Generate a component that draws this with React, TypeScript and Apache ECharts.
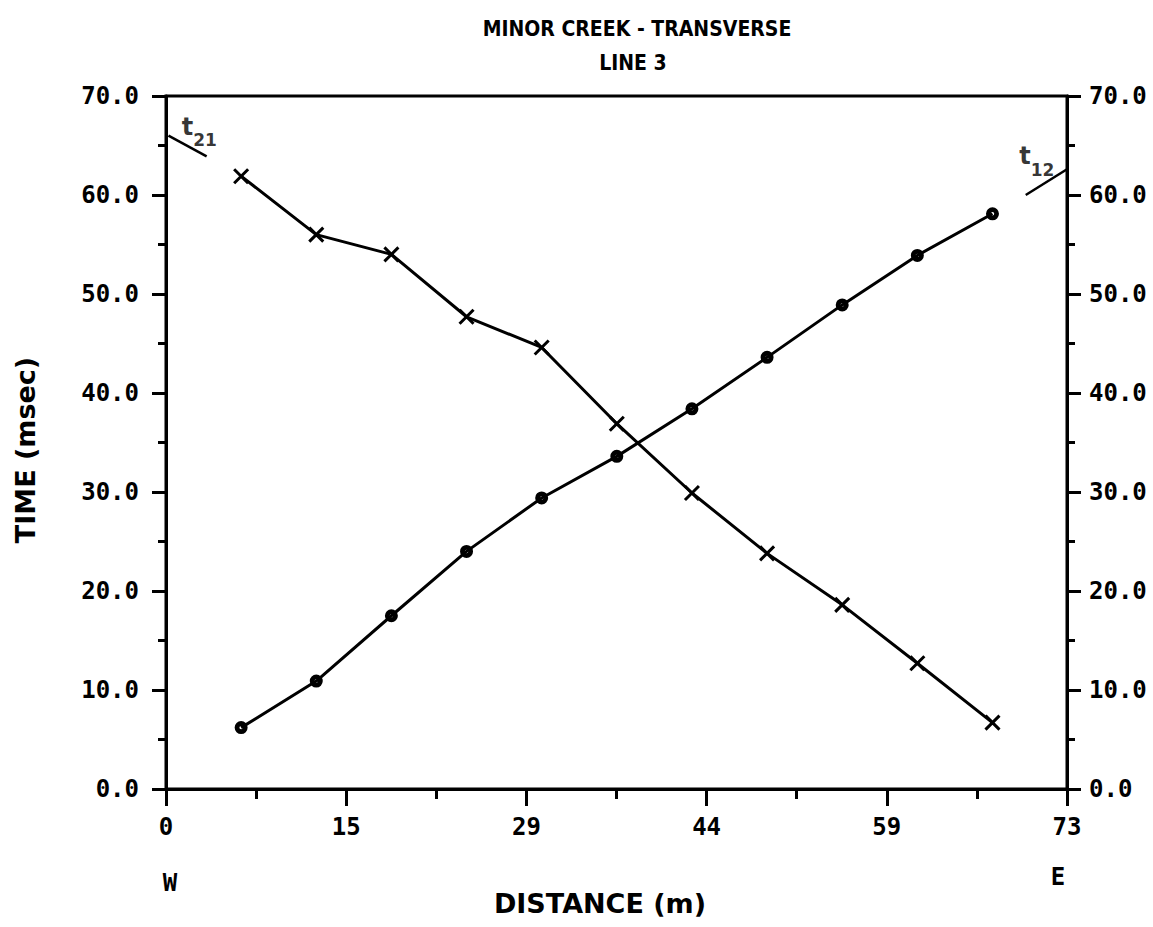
import React, { useEffect, useRef } from "react";
import * as echarts from "echarts";

// Geophone positions (m) along the line
const distances = [6.1, 12.2, 18.3, 24.4, 30.5, 36.6, 42.7, 48.8, 54.9, 61.0, 67.1];
// Travel times (msec): shot at east end (t21, crosses) and west end (t12, circles)
const timesT21 = [61.9, 56.0, 54.0, 47.7, 44.6, 36.9, 29.9, 23.8, 18.6, 12.7, 6.7];
const timesT12 = [6.2, 10.9, 17.5, 24.0, 29.4, 33.6, 38.4, 43.6, 48.9, 53.9, 58.1];
// Intercept-time indicators
const t21Segment = [[0.2, 66.0], [3.3, 63.9]];
const t12Segment = [[69.8, 60.0], [73.15, 62.6]];
const t21LabelAt = [2.7, 66.4];
const t12LabelAt = [70.7, 63.4];
// Axes
const xMax = 73.15;
const xTickLabels = ["0", "15", "29", "44", "59", "73"];
const yTickLabels = ["0.0", "10.0", "20.0", "30.0", "40.0", "50.0", "60.0", "70.0"];

const MONO = "'DejaVu Sans Mono', monospace";
const SANS = "'DejaVu Sans', sans-serif";
const RING =
  "path://M0,-6A6,6 0 1,1 0,6A6,6 0 1,1 0,-6ZM0,-1.6A1.6,1.6 0 1,0 0,1.6A1.6,1.6 0 1,0 0,-1.6Z";
const CROSS = "path://M0,0L10,10M10,0L0,10";

export default function App() {
  const ref = useRef<HTMLDivElement>(null);
  useEffect(() => {
    if (!ref.current) return;
    const chart = echarts.init(ref.current, undefined, { renderer: "svg" });
    const xInterval = xMax / 5;
    const labelStyle = {
      color: "#000",
      fontFamily: MONO,
      fontWeight: "bold" as const,
      fontSize: 24,
    };
    const yAxisBase = (pos: "left" | "right") => ({
      type: "value" as const,
      position: pos,
      min: 0,
      max: 70,
      interval: 10,
      axisLine: { show: true, lineStyle: { color: "#000", width: 3 } },
      axisTick: { show: true, length: 14, lineStyle: { color: "#000", width: 3 } },
      minorTick: { show: true, splitNumber: 2, length: 8, lineStyle: { color: "#000", width: 3 } },
      splitLine: { show: false },
      minorSplitLine: { show: false },
      axisLabel: {
        ...labelStyle,
        margin: pos === "left" ? 27 : 22,
        formatter: (v: number) => yTickLabels[Math.round(v / 10)] ?? "",
      },
    });
    const richT = (sub: string) => `{a|t}{b|${sub}}`;
    const rich = {
      a: { fontFamily: SANS, fontWeight: "bold", fontSize: 24, lineHeight: 24, verticalAlign: "top", color: "#000" },
      b: { fontFamily: SANS, fontWeight: "bold", fontSize: 17, lineHeight: 34, verticalAlign: "bottom", color: "#000" },
    };
    const titleFont = "bold 21px 'Liberation Sans Narrow', 'DejaVu Sans Condensed', sans-serif";
    chart.setOption({
      animation: false,
      backgroundColor: "#fff",
      grid: { left: 166, right: 86, top: 96, bottom: 138, show: true, borderColor: "#000", borderWidth: 3 },
      xAxis: {
        type: "value",
        min: 0,
        max: xMax,
        interval: xInterval,
        axisLine: { show: true, lineStyle: { color: "#000", width: 3 } },
        axisTick: { show: true, length: 17, lineStyle: { color: "#000", width: 3 } },
        minorTick: { show: true, splitNumber: 2, length: 10, lineStyle: { color: "#000", width: 3 } },
        splitLine: { show: false },
        minorSplitLine: { show: false },
        axisLabel: {
          ...labelStyle,
          margin: 26,
          formatter: (v: number) => xTickLabels[Math.round(v / xInterval)] ?? "",
        },
      },
      yAxis: [yAxisBase("left"), yAxisBase("right")],
      graphic: [
        {
          type: "text",
          x: 637,
          y: 29,
          style: { text: "MINOR CREEK - TRANSVERSE", fill: "#000", font: titleFont, textAlign: "center", textVerticalAlign: "middle" },
        },
        {
          type: "text",
          x: 633,
          y: 63,
          style: { text: "LINE 3", fill: "#000", font: titleFont, textAlign: "center", textVerticalAlign: "middle" },
        },
        {
          type: "text",
          x: 600,
          y: 903,
          style: { text: "DISTANCE (m)", fill: "#000", font: `bold 27px ${SANS}`, textAlign: "center", textVerticalAlign: "middle" },
        },
        {
          type: "text",
          x: 25,
          y: 450,
          rotation: Math.PI / 2,
          style: { text: "TIME (msec)", fill: "#000", font: `bold 27px ${SANS}`, textAlign: "center", textVerticalAlign: "middle" },
        },
        {
          type: "text",
          x: 170,
          y: 883,
          style: { text: "W", fill: "#000", font: `bold 24px ${MONO}`, textAlign: "center", textVerticalAlign: "middle" },
        },
        {
          type: "text",
          x: 1058,
          y: 877,
          style: { text: "E", fill: "#000", font: `bold 24px ${MONO}`, textAlign: "center", textVerticalAlign: "middle" },
        },
      ],
      series: [
        {
          name: "t21",
          type: "line",
          data: distances.map((d, i) => [d, timesT21[i]]),
          symbol: CROSS,
          symbolSize: 14,
          lineStyle: { color: "#000", width: 3 },
          itemStyle: { color: "#000", borderColor: "#000", borderWidth: 3 },
          z: 3,
        },
        {
          name: "t12",
          type: "line",
          data: distances.map((d, i) => [d, timesT12[i]]),
          symbol: RING,
          symbolSize: 13,
          lineStyle: { color: "#000", width: 3 },
          itemStyle: { color: "#000", borderWidth: 0 },
          z: 3,
        },
        {
          name: "t21 intercept",
          type: "line",
          data: t21Segment,
          symbol: "none",
          lineStyle: { color: "#000", width: 2.5 },
        },
        {
          name: "t12 intercept",
          type: "line",
          data: t12Segment,
          symbol: "none",
          lineStyle: { color: "#000", width: 2.5 },
        },
        {
          name: "labels",
          type: "scatter",
          symbolSize: 1,
          itemStyle: { color: "rgba(0,0,0,0)" },
          data: [
            { value: t21LabelAt, label: { show: true, position: "inside", formatter: richT("21"), rich } },
            { value: t12LabelAt, label: { show: true, position: "inside", formatter: richT("12"), rich } },
          ],
        },
      ],
    });
    return () => chart.dispose();
  }, []);
  return (
    <div
      ref={ref}
      style={{ position: "absolute", left: 0, top: 0, width: 1153, height: 927, background: "#fff" }}
    />
  );
}
